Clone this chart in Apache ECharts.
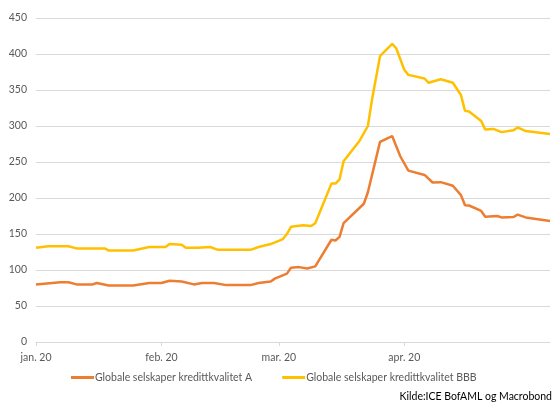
<!DOCTYPE html>
<html>
<head>
<meta charset="utf-8">
<script src="https://cdn.jsdelivr.net/npm/echarts@6/dist/echarts.min.js"></script>
<style>html,body{margin:0;padding:0;background:#fff}#c{width:555px;height:403px}</style>
</head>
<body>
<div id="c"></div>
<script>
// Data
const datesA = ["2020-01-01","2020-01-07","2020-01-09","2020-01-11","2020-01-15","2020-01-16","2020-01-19","2020-01-25","2020-01-29","2020-02-01","2020-02-03","2020-02-06","2020-02-09","2020-02-11","2020-02-14","2020-02-17","2020-02-23","2020-02-25","2020-02-28","2020-02-29","2020-03-03","2020-03-04","2020-03-06","2020-03-08","2020-03-10","2020-03-14","2020-03-15","2020-03-16","2020-03-17","2020-03-22","2020-03-23","2020-03-26","2020-03-29","2020-03-31","2020-04-02","2020-04-06","2020-04-08","2020-04-10","2020-04-13","2020-04-15","2020-04-16","2020-04-17","2020-04-20","2020-04-21","2020-04-24","2020-04-25","2020-04-28","2020-04-29","2020-05-01","2020-05-07"];
const valuesA = [80,83,83,80,80,82,78.5,78.5,82,82,85,84,80,82,82,79,79,82,84,88,95,103,104,102,105,142,141,146,165,192,208,278,286,258,238,232,221.5,222,217,204,190,189.6,182,174,175,173,173.6,177,173,168];
const datesBBB = ["2020-01-01","2020-01-04","2020-01-09","2020-01-11","2020-01-18","2020-01-19","2020-01-25","2020-01-29","2020-02-02","2020-02-03","2020-02-06","2020-02-07","2020-02-10","2020-02-13","2020-02-15","2020-02-23","2020-02-25","2020-02-28","2020-03-02","2020-03-03","2020-03-04","2020-03-07","2020-03-09","2020-03-10","2020-03-14","2020-03-15","2020-03-16","2020-03-17","2020-03-21","2020-03-23","2020-03-24","2020-03-26","2020-03-29","2020-03-30","2020-04-01","2020-04-02","2020-04-06","2020-04-07","2020-04-10","2020-04-13","2020-04-15","2020-04-16","2020-04-17","2020-04-20","2020-04-21","2020-04-23","2020-04-25","2020-04-28","2020-04-29","2020-05-01","2020-05-07"];
const valuesBBB = [131,133,133,130,130,127,127,132,132,136,135,131,131,132,128,128,132,136,143,150,160,162,161,165,220,220,226,251,280,300,336,397,414,408,378,371,366,360,365,360,343,321,320,307,295,296,291.5,294,298,293,289];
const seriesNames = ["Globale selskaper kredittkvalitet A","Globale selskaper kredittkvalitet BBB"];
const monthNames = ["jan.","feb.","mar.","apr."];
const yTicks = {min:0, max:450, interval:50};

// Build the daily category axis
const startDay = new Date(Date.UTC(2020,0,1));
const endDay = new Date(Date.UTC(2020,4,7));
const categories = [];
for (let t = startDay.getTime(); t <= endDay.getTime(); t += 86400000) {
  categories.push(new Date(t).toISOString().slice(0,10));
}
function toSeries(dates, vals) {
  const arr = categories.map(() => null);
  dates.forEach((d, i) => { const k = categories.indexOf(d); if (k >= 0) arr[k] = vals[i]; });
  return arr;
}
const isMonthStart = (idx) => categories[idx].slice(8,10) === "01" && parseInt(categories[idx].slice(5,7),10) <= monthNames.length;

const chart = echarts.init(document.getElementById('c'));
const font = 'Lato, "Open Sans", sans-serif';
chart.setOption({
  animation: false,
  grid: {left: 36, right: 5, top: 18, bottom: 61, containLabel: false},
  legend: {
    bottom: 15, left: 66,
    data: seriesNames,
    icon: 'rect', itemWidth: 23, itemHeight: 3, itemGap: 30,
    textStyle: {color: '#595959', fontSize: 10.5, fontFamily: font, padding: [0,0,0,-4]}
  },
  xAxis: {
    type: 'category', data: categories, boundaryGap: false,
    axisLine: {lineStyle: {color: '#d9d9d9'}},
    axisTick: {show: true, interval: isMonthStart, length: 4, lineStyle: {color: '#d9d9d9'}},
    axisLabel: {
      interval: isMonthStart, margin: 10, color: '#595959', fontSize: 10.5, fontFamily: font,
      formatter: v => monthNames[parseInt(v.slice(5,7),10)-1] + ' ' + v.slice(2,4)
    },
    splitLine: {show: false}
  },
  yAxis: {
    type: 'value', min: yTicks.min, max: yTicks.max, interval: yTicks.interval,
    axisLine: {show: false}, axisTick: {show: false},
    axisLabel: {color: '#595959', fontSize: 10.5, fontFamily: font, margin: 9},
    splitLine: {lineStyle: {color: '#d9d9d9', width: 1}}
  },
  series: [
    {name: seriesNames[0], type: 'line', data: toSeries(datesA, valuesA), connectNulls: true,
     showSymbol: false, symbol: 'none', color: '#ED7D31', lineStyle: {width: 2.5, color: '#ED7D31'}, z: 3},
    {name: seriesNames[1], type: 'line', data: toSeries(datesBBB, valuesBBB), connectNulls: true,
     showSymbol: false, symbol: 'none', color: '#FFC000', lineStyle: {width: 2.5, color: '#FFC000'}, z: 2}
  ],
  graphic: [{
    type: 'text', right: 3, top: 391,
    style: {text: 'Kilde:ICE BofAML og Macrobond', fill: '#000', font: '10.5px ' + font, textAlign: 'right'}
  }]
});
</script>
</body>
</html>
